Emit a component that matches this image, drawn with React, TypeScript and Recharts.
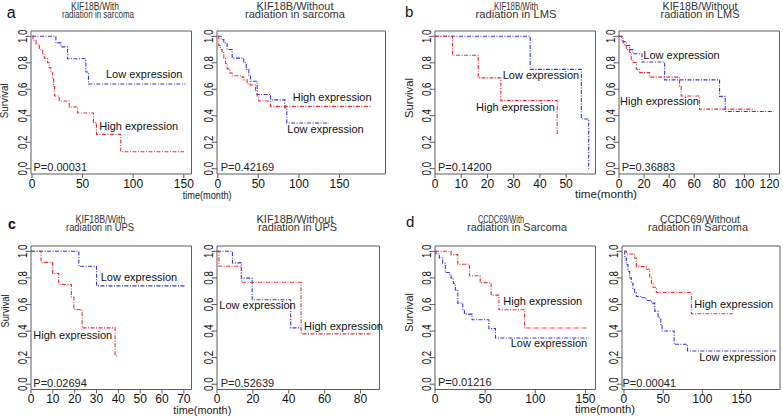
import React from 'react';
import { LineChart, Line, XAxis, YAxis, ReferenceArea } from 'recharts';

const RED = '#ee2b33';
const BLUE = '#3434e4';
const GRAY = '#5c5c5c';
const FONT = '"Liberation Sans", Arial, Helvetica, sans-serif';
const DASH = '4 1.5 1 1.5';

// Kaplan-Meier curves, [time(month), survival]
const kifWithSarcomaHigh = [[0, 1], [1, 0.97], [4, 0.94], [7.2, 0.9], [10.5, 0.864], [12.1, 0.834], [15.4, 0.8], [17.1, 0.763], [18.7, 0.725], [20.4, 0.688], [21.3, 0.62], [22.3, 0.549], [26.9, 0.511], [36.8, 0.466], [45, 0.421], [60.7, 0.348], [63.7, 0.259], [87.7, 0.128], [150, 0.128]];
const kifWithSarcomaLow = [[0, 1], [23.6, 0.95], [28.6, 0.92], [35.1, 0.83], [53.2, 0.73], [55.8, 0.64], [151.7, 0.64]];

const kifWithoutSarcomaHigh = [[0, 1], [1.2, 0.93], [3.3, 0.9], [5.3, 0.878], [7.4, 0.837], [9.5, 0.795], [11.5, 0.754], [14.8, 0.723], [17.7, 0.702], [30, 0.692], [32, 0.671], [36.2, 0.64], [40, 0.632], [46.4, 0.592], [48.5, 0.549], [50.5, 0.511], [65, 0.471], [190, 0.471]];
const kifWithoutSarcomaLow = [[0, 1], [4.1, 0.975], [7.4, 0.95], [11.5, 0.9], [17.7, 0.835], [32, 0.8], [35, 0.75], [38.2, 0.7], [40.3, 0.66], [48.5, 0.56], [65, 0.52], [82.6, 0.46], [85, 0.345], [137, 0.345]];

const kifWithLmsHigh = [[0, 1], [6.7, 0.857], [16.5, 0.686], [25.1, 0.514], [46.6, 0.257]];
const kifWithLmsLow = [[0, 1], [36.3, 0.75], [55.8, 0.375], [58.6, 0]];

const kifWithoutLmsHigh = [[0, 1], [1.9, 0.972], [3.2, 0.951], [4.5, 0.93], [5.8, 0.899], [8.5, 0.878], [9.8, 0.827], [11.2, 0.802], [13.8, 0.751], [16.5, 0.726], [24.4, 0.692], [48.3, 0.625], [49.6, 0.549], [64.2, 0.45], [108, 0.45]];
const kifWithoutLmsLow = [[0, 1], [3.2, 0.961], [5.8, 0.93], [8.5, 0.899], [11.2, 0.868], [18.3, 0.806], [36.4, 0.671], [80.2, 0.546], [84.7, 0.432], [123.4, 0.432]];

const kifWithUpsHigh = [[0, 1], [4.6, 0.917], [9.9, 0.833], [12.7, 0.75], [18.5, 0.655], [19.6, 0.562], [23.4, 0.424], [38.5, 0.212], [39.5, 0.212]];
const kifWithUpsLow = [[0, 1], [21.9, 0.888], [30, 0.74], [70.8, 0.74]];

const kifWithoutUpsHigh = [[0, 1], [1.1, 0.888], [13.6, 0.767], [46.9, 0.379], [86.5, 0.379]];
const kifWithoutUpsLow = [[0, 1], [8.6, 0.913], [13.6, 0.798], [19.6, 0.635], [41.1, 0.424], [47, 0.424]];

const ccdcWithSarcomaHigh = [[0, 1], [16, 0.975], [22.7, 0.903], [34.3, 0.816], [45, 0.764], [56, 0.67], [63.7, 0.56], [89.3, 0.423], [151, 0.423]];
const ccdcWithSarcomaLow = [[0, 1], [1, 0.98], [4.3, 0.95], [7.7, 0.91], [10.3, 0.84], [14.3, 0.826], [16, 0.8], [18.3, 0.76], [20.3, 0.71], [22.7, 0.61], [27.7, 0.56], [29.3, 0.527], [37, 0.485], [53.7, 0.418], [60.3, 0.348], [153.7, 0.348]];

const ccdcWithoutSarcomaHigh = [[0, 1], [3, 0.98], [13.6, 0.95], [15.8, 0.885], [28.5, 0.865], [32.8, 0.8], [35, 0.76], [37, 0.73], [41.3, 0.69], [86, 0.53], [139, 0.53]];
const ccdcWithoutSarcomaLow = [[0, 1], [1, 0.95], [3, 0.9], [5.1, 0.85], [7.2, 0.8], [9.4, 0.76], [11.5, 0.72], [13.6, 0.69], [15.8, 0.66], [22.2, 0.65], [28.5, 0.63], [35, 0.61], [39.2, 0.55], [43.5, 0.5], [46.9, 0.45], [48.6, 0.4], [64, 0.3], [81, 0.25], [194.7, 0.25]];

const survTicks = [0, 0.2, 0.4, 0.6, 0.8, 1];
const ticks150 = [0, 50, 100, 150];
const ticks50 = [0, 10, 20, 30, 40, 50];
const ticks120 = [0, 20, 40, 60, 80, 100, 120];
const ticks70 = [0, 10, 20, 30, 40, 50, 60, 70];
const ticks80 = [0, 20, 40, 60, 80];

const pValues = ['P=0.00031', 'P=0.42169', 'P=0.14200', 'P=0.36883', 'P=0.02694', 'P=0.52639', 'P=0.01216', 'P=0.00041'];

const Y_MIN = -0.04;
const Y_MAX = 1.04;
const YW = 24;
const XH = 24;
const PAD = 9;

// title lines: [centre x, baseline y, width, font size]
const panels = [
  {
    box: { x: 30.5, y: 30.5, w: 160.5, h: 143 }, xDomain: [-1, 157.6], xTicks: ticks150,
    high: kifWithSarcomaHigh, low: kifWithSarcomaLow,
    title: ['KIF18B/With', 'radiation in sarcoma'], t1: [95, 10, 48, 10.5], t2: [98, 18, 72, 10],
    pPos: [33.5, 170.5], highLbl: [99.3, 130], lowLbl: [106, 78.3],
  },
  {
    box: { x: 216.5, y: 30.5, w: 168.5, h: 143 }, xDomain: [-1, 206.7], xTicks: ticks150,
    high: kifWithoutSarcomaHigh, low: kifWithoutSarcomaLow,
    title: ['KIF18B/Without', 'radiation in sarcoma'], t1: [295, 10, 77, 10.5], t2: [295, 18, 100, 10.5],
    pPos: [220.7, 170.5], highLbl: [292.7, 101], lowLbl: [287.3, 132.7],
  },
  {
    box: { x: 435, y: 30.5, w: 160.5, h: 143 }, xDomain: [0, 61.2], xTicks: ticks50,
    high: kifWithLmsHigh, low: kifWithLmsLow,
    title: ['KIF18B/With', 'radiation in LMS'], t1: [516, 10, 44, 10.5], t2: [516, 17.8, 81, 10.5],
    pPos: [438, 171], highLbl: [476, 111], lowLbl: [502.7, 79],
  },
  {
    box: { x: 619, y: 30.5, w: 160.5, h: 143 }, xDomain: [0, 128], xTicks: ticks120,
    high: kifWithoutLmsHigh, low: kifWithoutLmsLow,
    title: ['KIF18B/Without', 'radiation in LMS'], t1: [700, 10, 75, 10.5], t2: [700, 17.8, 79, 10.5],
    pPos: [621.7, 171], highLbl: [620, 105], lowLbl: [643.3, 59.3],
  },
  {
    box: { x: 30.5, y: 245.5, w: 160.5, h: 143.5 }, xDomain: [0, 73.5], xTicks: ticks70,
    high: kifWithUpsHigh, low: kifWithUpsLow,
    title: ['KIF18B/With', 'radiation in UPS'], t1: [100.5, 222.5, 50, 10.5], t2: [100, 230.8, 68, 10],
    pPos: [33.3, 386.5], highLbl: [33.3, 339.3], lowLbl: [100.7, 281],
  },
  {
    box: { x: 216.5, y: 245.5, w: 162.5, h: 143.5 }, xDomain: [0, 90.6], xTicks: ticks80,
    high: kifWithoutUpsHigh, low: kifWithoutUpsLow,
    title: ['KIF18B/Without', 'radiation in UPS'], t1: [295, 222.5, 77, 10.5], t2: [297.5, 230.8, 79, 10.5],
    pPos: [220.7, 386.5], highLbl: [304, 330], lowLbl: [219.3, 309],
  },
  {
    box: { x: 435, y: 245.5, w: 160.5, h: 143.5 }, xDomain: [0, 160], xTicks: ticks150,
    high: ccdcWithSarcomaHigh, low: ccdcWithSarcomaLow,
    title: ['CCDC69/With', 'radiation in Sarcoma'], t1: [501, 222.5, 46, 10.5], t2: [517, 230.8, 100, 10.5],
    pPos: [438, 386], highLbl: [503.3, 305], lowLbl: [510.7, 346.7],
  },
  {
    box: { x: 621.5, y: 245.5, w: 158, h: 143.5 }, xDomain: [-2.5, 199], xTicks: ticks150,
    high: ccdcWithoutSarcomaHigh, low: ccdcWithoutSarcomaLow,
    title: ['CCDC69/Without', 'radiation in Sarcoma'], t1: [700, 222.5, 80, 10.5], t2: [698, 230.8, 100, 10.5],
    pPos: [622.5, 386.5], highLbl: [694.3, 307.7], lowLbl: [699.3, 361],
  },
];

const letters = [
  { s: 'a', x: 6.7, y: 18.3, size: 16, bold: false },
  { s: 'b', x: 405, y: 17.3, size: 15, bold: false },
  { s: 'c', x: 8, y: 228.5, size: 14, bold: true },
  { s: 'd', x: 406, y: 227.3, size: 15, bold: false },
];

const survivalLabels = [[8.5, 100.8, 35], [412.5, 98, 40], [9, 311, 33], [412.5, 312.5, 39]];
const timeLabels = [[182.7, 198.5, 49], [575, 198, 62], [173.3, 413.5, 58], [575, 413, 60]];

const toRows = (pts: number[][]) => pts.map(([t, s]) => ({ t, s }));

const XTick = (props: any) => {
  const { x, y, payload } = props;
  return (
    <text x={x} y={y + 9.5} textAnchor="middle" fontSize={12} fill="#111" fontFamily={FONT}>
      {payload.value}
    </text>
  );
};

const YTick = (props: any) => {
  const { x, y, payload } = props;
  return (
    <text
      x={x}
      y={y}
      transform={`rotate(-90 ${x} ${y})`}
      textAnchor="middle"
      fontSize={12}
      textLength={13.5}
      lengthAdjust="spacingAndGlyphs"
      fill="#111"
      fontFamily={FONT}
    >
      {Number(payload.value).toFixed(1)}
    </text>
  );
};

function KMPanel({ p }: { p: any }) {
  const w = YW + p.box.w + PAD;
  const h = PAD + p.box.h + XH;
  return (
    <div style={{ position: 'absolute', left: p.box.x - YW, top: p.box.y - PAD }}>
      <LineChart width={w} height={h} margin={{ top: PAD, right: PAD, bottom: 0, left: 0 }}>
        <XAxis
          type="number"
          dataKey="t"
          domain={p.xDomain}
          ticks={p.xTicks}
          interval={0}
          allowDataOverflow
          axisLine={false}
          tickSize={4}
          tickMargin={0}
          tickLine={{ stroke: GRAY }}
          tick={XTick}
          height={XH}
        />
        <YAxis
          type="number"
          domain={[Y_MIN, Y_MAX]}
          ticks={survTicks}
          interval={0}
          allowDataOverflow
          axisLine={false}
          tickSize={4}
          tickMargin={0}
          tickLine={{ stroke: GRAY }}
          tick={YTick}
          width={YW}
        />
        <Line data={toRows(p.low)} dataKey="s" type="stepAfter" stroke={BLUE} strokeWidth={1.1}
          strokeDasharray={DASH} dot={false} activeDot={false} isAnimationActive={false} />
        <Line data={toRows(p.high)} dataKey="s" type="stepAfter" stroke={RED} strokeWidth={1.1}
          strokeDasharray={DASH} dot={false} activeDot={false} isAnimationActive={false} />
        <ReferenceArea x1={p.xDomain[0]} x2={p.xDomain[1]} y1={Y_MIN} y2={Y_MAX}
          fill="none" stroke={GRAY} strokeWidth={1} ifOverflow="visible" />
      </LineChart>
    </div>
  );
}

export default function App() {
  return (
    <div style={{ position: 'absolute', left: 0, top: 0, width: 783, height: 418, background: '#fff' }}>
      {panels.map((p, i) => <KMPanel key={i} p={p} />)}
      <svg width={783} height={418} style={{ position: 'absolute', left: 0, top: 0, pointerEvents: 'none' }}
        fontFamily={FONT}>
        {panels.map((p, i) => (
          <g key={i}>
            <text x={p.t1[0]} y={p.t1[1]} textAnchor="middle" fontSize={p.t1[3]} textLength={p.t1[2]}
              lengthAdjust="spacingAndGlyphs" fill="#333">{p.title[0]}</text>
            <text x={p.t2[0]} y={p.t2[1]} textAnchor="middle" fontSize={p.t2[3]} textLength={p.t2[2]}
              lengthAdjust="spacingAndGlyphs" fill="#333">{p.title[1]}</text>
            <text x={p.pPos[0]} y={p.pPos[1]} fontSize={11} fill="#222">{pValues[i]}</text>
            <text x={p.highLbl[0]} y={p.highLbl[1]} fontSize={11} fill="#111">High expression</text>
            <text x={p.lowLbl[0]} y={p.lowLbl[1]} fontSize={11} fill="#111">Low expression</text>
          </g>
        ))}
        {letters.map((l) => (
          <text key={l.s} x={l.x} y={l.y} fontSize={l.size} fontWeight={l.bold ? 700 : 400} fill="#111">{l.s}</text>
        ))}
        {survivalLabels.map(([x, y, len], i) => (
          <text key={i} x={x} y={y} transform={`rotate(-90 ${x} ${y})`} textAnchor="middle" fontSize={11.5}
            textLength={len} lengthAdjust="spacingAndGlyphs" fill="#222">Survival</text>
        ))}
        {timeLabels.map(([x, y, len], i) => (
          <text key={i} x={x} y={y} fontSize={11} textLength={len} lengthAdjust="spacingAndGlyphs" fill="#222">time(month)</text>
        ))}
      </svg>
    </div>
  );
}
